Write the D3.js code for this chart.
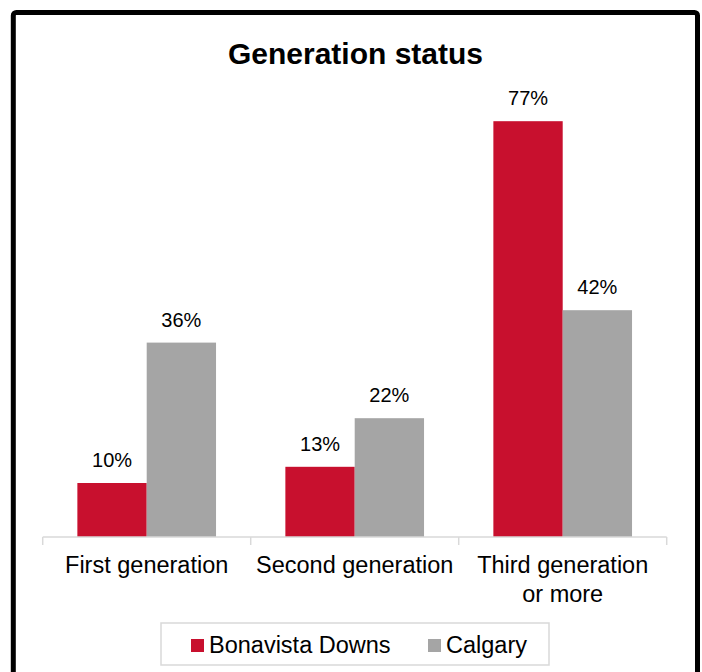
<!DOCTYPE html>
<html>
<head>
<meta charset="utf-8">
<script src="https://cdn.jsdelivr.net/npm/d3@7"></script>
<style>
  html, body { margin: 0; padding: 0; background: #fff; }
  svg { display: block; font-family: "Liberation Sans", Arial, sans-serif; }
</style>
</head>
<body>
<svg id="chart" width="702" height="672"></svg>
<script>
const title = "Generation status";
const categories = [["First generation"], ["Second generation"], ["Third generation", "or more"]];
const seriesNames = ["Bonavista Downs", "Calgary"];
const bonavista = [0.10, 0.13, 0.77];
const calgary = [0.36, 0.22, 0.42];
const seriesColors = ["#C8102E", "#A5A5A5"];

const svg = d3.select("#chart");

// outer frame
svg.append("rect")
  .attr("x", 13.3).attr("y", 12.5)
  .attr("width", 684.2).attr("height", 700)
  .attr("rx", 3)
  .attr("fill", "#fff").attr("stroke", "#000").attr("stroke-width", 5);

svg.append("text")
  .attr("x", 355.5).attr("y", 64)
  .attr("text-anchor", "middle")
  .attr("font-size", 30).attr("font-weight", "bold")
  .attr("fill", "#000")
  .text(title);

const x0 = d3.scaleBand().domain(d3.range(categories.length)).range([42.7, 666.7]).paddingInner(0).paddingOuter(0);
const x1 = d3.scaleBand().domain([0, 1]).range([0, x0.bandwidth()]).paddingInner(0).paddingOuter(0.5);
const y = d3.scaleLinear().domain([0, 0.9]).range([537, 51]);

const series = [bonavista, calgary];
const pctFmt = d3.format(".0%");

const groups = svg.append("g").selectAll("g")
  .data(categories.map((c, i) => i))
  .join("g")
  .attr("transform", i => `translate(${x0(i)},0)`);

groups.selectAll("rect")
  .data(i => series.map((s, si) => ({ si, v: s[i] })))
  .join("rect")
  .attr("x", d => x1(d.si))
  .attr("y", d => y(d.v))
  .attr("width", x1.bandwidth())
  .attr("height", d => y(0) - y(d.v))
  .attr("fill", d => seriesColors[d.si]);

groups.selectAll("text.lbl")
  .data(i => series.map((s, si) => ({ si, v: s[i] })))
  .join("text")
  .attr("class", "lbl")
  .attr("x", d => x1(d.si) + x1.bandwidth() / 2)
  .attr("y", d => y(d.v) - 16)
  .attr("text-anchor", "middle")
  .attr("font-size", 20)
  .attr("fill", "#000")
  .text(d => pctFmt(d.v));

// axis
const axisG = svg.append("g").attr("transform", `translate(0,${y(0)})`);
axisG.append("line")
  .attr("x1", x0.range()[0]).attr("x2", x0.range()[1])
  .attr("stroke", "#D9D9D9").attr("stroke-width", 1.5);
const tickPos = d3.range(categories.length + 1).map(i => x0.range()[0] + i * x0.bandwidth());
axisG.selectAll("line.tick")
  .data(tickPos)
  .join("line")
  .attr("class", "tick")
  .attr("x1", d => d).attr("x2", d => d)
  .attr("y1", 0).attr("y2", 8)
  .attr("stroke", "#D9D9D9").attr("stroke-width", 1.5);

const catLabels = svg.append("g").selectAll("text")
  .data(categories.map((c, i) => ({ c, i })))
  .join("text")
  .attr("x", d => x0(d.i) + x0.bandwidth() / 2)
  .attr("y", 573)
  .attr("text-anchor", "middle")
  .attr("font-size", 23.5)
  .attr("fill", "#000");
catLabels.selectAll("tspan")
  .data(d => d.c.map((line, li) => ({ line, li, x: x0(d.i) + x0.bandwidth() / 2 })))
  .join("tspan")
  .attr("x", d => d.x)
  .attr("dy", d => d.li === 0 ? 0 : 29)
  .text(d => d.line);

// legend
const legend = svg.append("g");
legend.append("rect")
  .attr("x", 161).attr("y", 623).attr("width", 388).attr("height", 42)
  .attr("fill", "#fff").attr("stroke", "#D9D9D9").attr("stroke-width", 1.5);
const legendX = [191, 428];
const li = legend.selectAll("g.item")
  .data(seriesNames.map((n, i) => ({ n, i })))
  .join("g").attr("class", "item")
  .attr("transform", d => `translate(${legendX[d.i]},639)`);
li.append("rect")
  .attr("width", 13).attr("height", 13)
  .attr("fill", d => seriesColors[d.i]);
li.append("text")
  .attr("x", 18).attr("y", 14)
  .attr("font-size", 23.5)
  .attr("fill", "#000")
  .text(d => d.n);
</script>
</body>
</html>
